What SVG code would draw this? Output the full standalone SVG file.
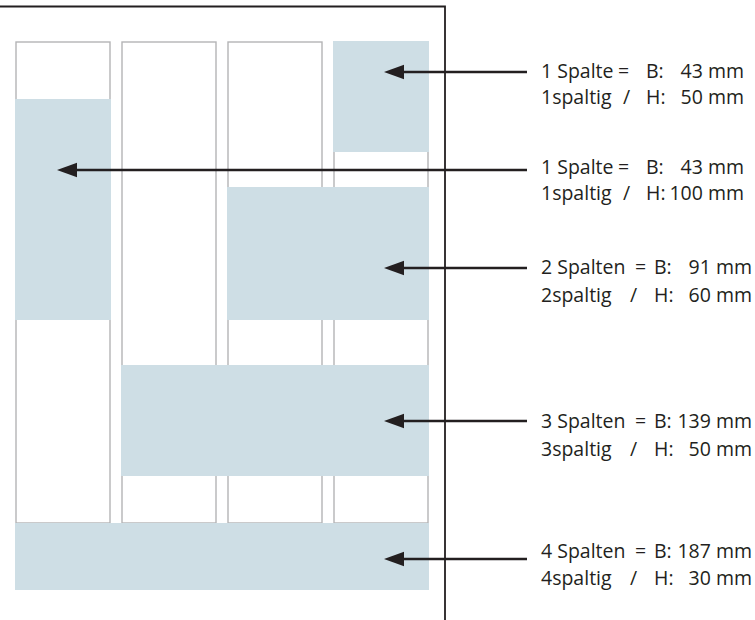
<svg xmlns="http://www.w3.org/2000/svg" width="755" height="620" viewBox="0 0 755 620">
<style>
.col{fill:#fff;stroke:#b4b4b6;stroke-width:1.4}
.box{fill:#cedee5}
.frame{fill:none;stroke:#231f20;stroke-width:1.8}
.conn{stroke:#231f20;stroke-width:2.6;fill:none}
.head{fill:#231f20}
text{font-family:"Open Sans","Liberation Sans",sans-serif;font-size:19.5px;fill:#231f20}
.e{text-anchor:end}
</style>
<path class="frame" d="M0,6.5 H445 V620"/>
<g id="columns">
<rect class="col" x="16" y="42" width="94" height="481"/>
<rect class="col" x="122" y="42" width="94" height="481"/>
<rect class="col" x="228" y="42" width="94" height="481"/>
<rect class="col" x="334" y="42" width="94" height="481"/>
</g>
<g id="box1"><rect class="box" x="333" y="41" width="96" height="111"/></g>
<g id="box2"><rect class="box" x="15" y="99" width="96" height="221"/></g>
<g id="box3"><rect class="box" x="227" y="187" width="202" height="133"/></g>
<g id="box4"><rect class="box" x="121" y="365" width="308" height="111"/></g>
<g id="box5"><rect class="box" x="15" y="523" width="414" height="67"/></g>
<g id="connectors">
<line class="conn" x1="402" y1="72" x2="527" y2="72"/>
<polygon class="head" points="384,72 404,64.7 404,79.3"/>
<line class="conn" x1="75" y1="170" x2="527" y2="170"/>
<polygon class="head" points="57,170 77,162.7 77,177.3"/>
<line class="conn" x1="402" y1="268" x2="527" y2="268"/>
<polygon class="head" points="384,268 404,260.7 404,275.3"/>
<line class="conn" x1="402" y1="421" x2="527" y2="421"/>
<polygon class="head" points="384,421 404,413.7 404,428.3"/>
<line class="conn" x1="402" y1="559" x2="527" y2="559"/>
<polygon class="head" points="384,559 404,551.7 404,566.3"/>
</g>
<g id="label1">
<text x="541" y="77.5">1 Spalte</text><text x="618" y="77.5">=</text><text x="646" y="77.5">B:</text><text class="e" x="744" y="77.5">43 mm</text>
<text x="541" y="103.5">1spaltig</text><text x="623" y="103.5">/</text><text x="646" y="103.5">H:</text><text class="e" x="744" y="103.5">50 mm</text>
</g>
<g id="label2">
<text x="541" y="173.5">1 Spalte</text><text x="618" y="173.5">=</text><text x="646" y="173.5">B:</text><text class="e" x="744" y="173.5">43 mm</text>
<text x="541" y="199.5">1spaltig</text><text x="623" y="199.5">/</text><text x="646" y="199.5">H:</text><text class="e" x="744" y="199.5">100 mm</text>
</g>
<g id="label3">
<text x="541" y="273.5">2 Spalten</text><text x="635" y="273.5">=</text><text x="654" y="273.5">B:</text><text class="e" x="752" y="273.5">91 mm</text>
<text x="541" y="301.5">2spaltig</text><text x="630" y="301.5">/</text><text x="654" y="301.5">H:</text><text class="e" x="752" y="301.5">60 mm</text>
</g>
<g id="label4">
<text x="541" y="427.5">3 Spalten</text><text x="635" y="427.5">=</text><text x="654" y="427.5">B:</text><text class="e" x="752" y="427.5">139 mm</text>
<text x="541" y="455.5">3spaltig</text><text x="630" y="455.5">/</text><text x="654" y="455.5">H:</text><text class="e" x="752" y="455.5">50 mm</text>
</g>
<g id="label5">
<text x="541" y="558">4 Spalten</text><text x="635" y="558">=</text><text x="654" y="558">B:</text><text class="e" x="752" y="558">187 mm</text>
<text x="541" y="585">4spaltig</text><text x="630" y="585">/</text><text x="654" y="585">H:</text><text class="e" x="752" y="585">30 mm</text>
</g>
</svg>
